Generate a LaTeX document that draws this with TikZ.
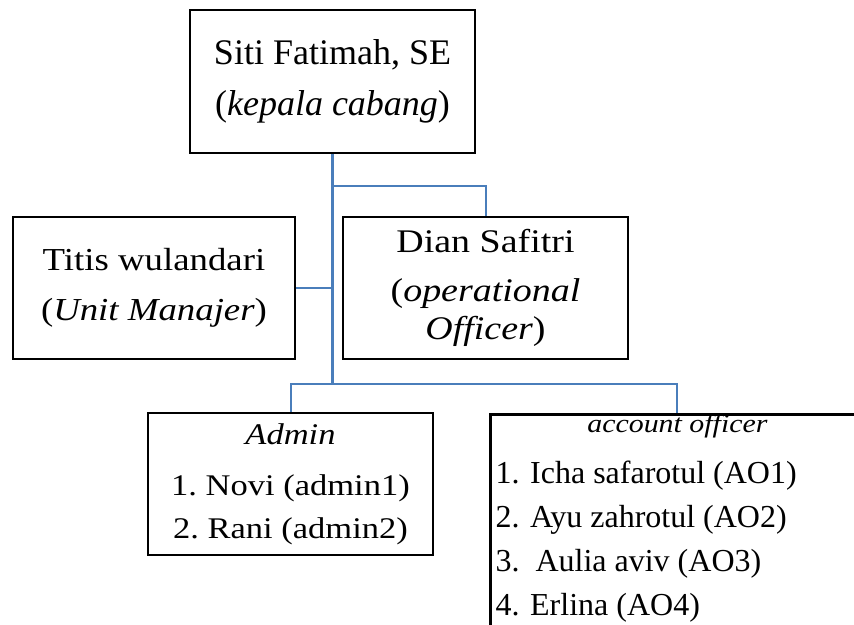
\documentclass[tikz,border=0pt]{standalone}
\usepackage{fontspec}
\setmainfont{Liberation Serif}
\newfontfamily\wideserif{Liberation Serif}[FakeStretch=1.15]
\usetikzlibrary{calc}
\definecolor{LinkClr}{RGB}{74,126,187}

\begin{document}
\begin{tikzpicture}[x=1pt,y=-1pt,
  box/.style={draw=black,line width=2.8pt,inner sep=0pt,align=center},
  link/.style={draw=LinkClr,line width=2pt},
  trunk/.style={link,line width=3pt}]
\useasboundingbox (0,0) rectangle (854,624);

% boxes
\node[box,minimum width=285pt,minimum height=143pt,
  font=\fontsize{36}{51}\selectfont] (kepala) at (332.5,81.5)
  {Siti Fatimah, SE\\(\textit{kepala cabang})};
\node[box,minimum width=282pt,minimum height=142pt,
  font=\wideserif\fontsize{32}{50}\selectfont] (um) at (154,288)
  {Titis wulandari\\(\textit{Unit Manajer})};
\node[box,minimum width=285pt,minimum height=142pt,
  font=\wideserif\fontsize{33}{38}\selectfont] (oo) at (485.5,288)
  {Dian Safitri\\[11pt](\textit{operational}\\\textit{Officer})};
\node[box,minimum width=285pt,minimum height=142pt,
  font=\wideserif\fontsize{30}{43}\selectfont] (admin) at (290.5,484)
  {\textit{Admin}\\[8pt]1.~Novi (admin1)\\2.~Rani (admin2)};
\node[box,minimum width=374pt,minimum height=240pt,anchor=north west] (acc) at (489,413) {};

% account officer list
\node[anchor=base,font=\wideserif\fontsize{26}{30}\selectfont\itshape] (aotitle)
  at ($(acc.north)+(0,19)$) {account officer};
\foreach \ao [count=\k from 0] in {{1. Icha safarotul (AO1)},{2. Ayu zahrotul (AO2)},
    {3.\ \ Aulia aviv (AO3)},{4. Erlina (AO4)}}
  \node[anchor=base west,font=\fontsize{32}{38}\selectfont] (ao\k)
    at ($(acc.north west)+(3,70+44*\k)$) {\ao};

% connectors
\coordinate (split) at ($(kepala.south)+(0,32)$);
\coordinate (hub) at ($(kepala.south)+(0,230)$);
\draw[trunk] (kepala.south) -- (hub);
\draw[link] (split) -| (oo.north);
\draw[link] (um.east) -- (um.east -| kepala.south);
\draw[link] (hub) -| (admin.north);
\draw[link] (hub) -| (acc.north);

\end{tikzpicture}
\end{document}
